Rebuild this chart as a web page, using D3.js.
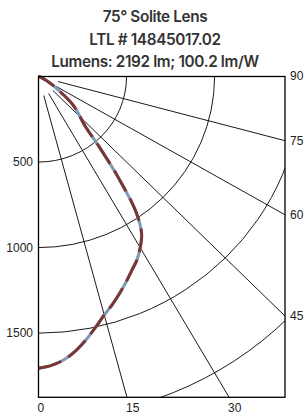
<!DOCTYPE html>
<html>
<head>
<meta charset="utf-8">
<script src="https://cdn.jsdelivr.net/npm/d3@7/dist/d3.min.js"></script>
<style>
  html, body { margin: 0; padding: 0; background: #fff; }
  svg { display: block; }
</style>
</head>
<body>
<svg id="chart" width="307" height="413"></svg>
<script>
// ---- data ----
const titleLines = ["75° Solite Lens", "LTL # 14845017.02", "Lumens: 2192 lm; 100.2 lm/W"];
const anglesDeg = [0, 2.5, 5, 7.5, 10, 12.5, 15, 17.5, 20, 22.5, 25, 27.5, 30, 32.5, 35, 37.5, 40, 42.5, 45, 47.5, 50, 52.5, 55, 57.5, 60, 62.5, 65, 70, 75, 80, 90];
const candelaPlane0 = [1705, 1690, 1662, 1617, 1561, 1500, 1443, 1396, 1348, 1300, 1252, 1210, 1155, 1090, 965, 745, 535, 390, 335, 295, 250, 190, 135, 100, 70, 45, 30, 12, 5, 2, 0];
const candelaPlane90 = [1705, 1690, 1662, 1617, 1561, 1500, 1443, 1396, 1348, 1300, 1252, 1210, 1155, 1090, 965, 745, 535, 390, 335, 295, 250, 190, 135, 100, 70, 45, 30, 12, 5, 2, 0];
const ringValues = [500, 1000, 1500, 2000];
const leftTickLabels = [500, 1000, 1500];
const rayAngles = [15, 30, 45, 60, 75];
const rightAngleLabels = [90, 75, 60, 45];
const bottomAngleLabels = [0, 15, 30];

// ---- layout ----
const svg = d3.select("#chart");
const x = d3.scaleLinear().domain([0, 1400]).range([38.5, 285]);
const y = d3.scaleLinear().domain([0, 1875]).range([76.5, 397.3]);
const rad = d => d * Math.PI / 180;
const px = (a, r) => x(r * Math.sin(rad(a)));
const py = (a, r) => y(r * Math.cos(rad(a)));

// title
svg.append("g").selectAll("text").data(titleLines).join("text")
  .attr("x", 155).attr("y", (d, i) => 22.3 + i * 22.2)
  .attr("text-anchor", "middle")
  .attr("font-family", "Inter, 'Noto Sans', sans-serif")
  .attr("font-weight", 600)
  .attr("font-size", 15.3)
  .attr("letter-spacing", -0.35)
  .attr("fill", "#333")
  .text(d => d);

// clip
svg.append("clipPath").attr("id", "plotclip").append("rect")
  .attr("x", x(0)).attr("y", y(0))
  .attr("width", x(1400) - x(0)).attr("height", y(1875) - y(0));

const grid = svg.append("g").attr("clip-path", "url(#plotclip)");

// rings
grid.selectAll("ellipse").data(ringValues).join("ellipse")
  .attr("cx", x(0)).attr("cy", y(0))
  .attr("rx", d => x(d) - x(0)).attr("ry", d => y(d) - y(0))
  .attr("fill", "none").attr("stroke", "#000").attr("stroke-width", 0.9);

// rays
grid.selectAll("line.ray").data(rayAngles).join("line")
  .attr("class", "ray")
  .attr("x1", d => px(d, 115)).attr("y1", d => py(d, 115))
  .attr("x2", d => px(d, 4000)).attr("y2", d => py(d, 4000))
  .attr("stroke", "#000").attr("stroke-width", 0.9);

// curves
const lineGen = d3.line()
  .x(d => px(d[0], d[1]))
  .y(d => py(d[0], d[1]))
  .curve(d3.curveCatmullRom.alpha(0.5));

const c90 = anglesDeg.map((a, i) => [a, candelaPlane90[i]]);
const c0 = anglesDeg.map((a, i) => [a, candelaPlane0[i]]);

svg.append("path").datum(c90)
  .attr("d", lineGen)
  .attr("fill", "none").attr("stroke", "#7e9ab6").attr("stroke-width", 3)
  .attr("stroke-linecap", "butt");
svg.append("path").datum(c0)
  .attr("d", lineGen)
  .attr("fill", "none").attr("stroke", "#7a3636").attr("stroke-width", 3)
  .attr("stroke-dasharray", "24,8");

// frame
svg.append("rect")
  .attr("x", x(0)).attr("y", y(0))
  .attr("width", x(1400) - x(0)).attr("height", y(1875) - y(0))
  .attr("fill", "none").attr("stroke", "#000").attr("stroke-width", 1.3);

const tickFont = "'Liberation Sans', Arial, sans-serif";

// left labels
svg.append("g").selectAll("text").data(leftTickLabels).join("text")
  .attr("x", x(0) - 5.5).attr("y", d => y(d))
  .attr("dy", "0.35em")
  .attr("text-anchor", "end")
  .attr("font-family", tickFont).attr("font-size", 12)
  .attr("fill", "#222")
  .text(d => d);

// right labels
svg.append("g").selectAll("text").data(rightAngleLabels).join("text")
  .attr("x", x(1400) + 5).attr("y", d => d === 90 ? y(0) - 1 : y(1400 / Math.tan(rad(d))))
  .attr("dy", "0.35em")
  .attr("text-anchor", "start")
  .attr("font-family", tickFont).attr("font-size", 12)
  .attr("fill", "#222")
  .text(d => d);

// bottom labels
svg.append("g").selectAll("text").data(bottomAngleLabels).join("text")
  .attr("x", d => x(1875 * Math.tan(rad(d))) - 1)
  .attr("y", 411.5)
  .attr("text-anchor", "start")
  .attr("font-family", tickFont).attr("font-size", 12)
  .attr("fill", "#222")
  .text(d => d);
</script>
</body>
</html>
